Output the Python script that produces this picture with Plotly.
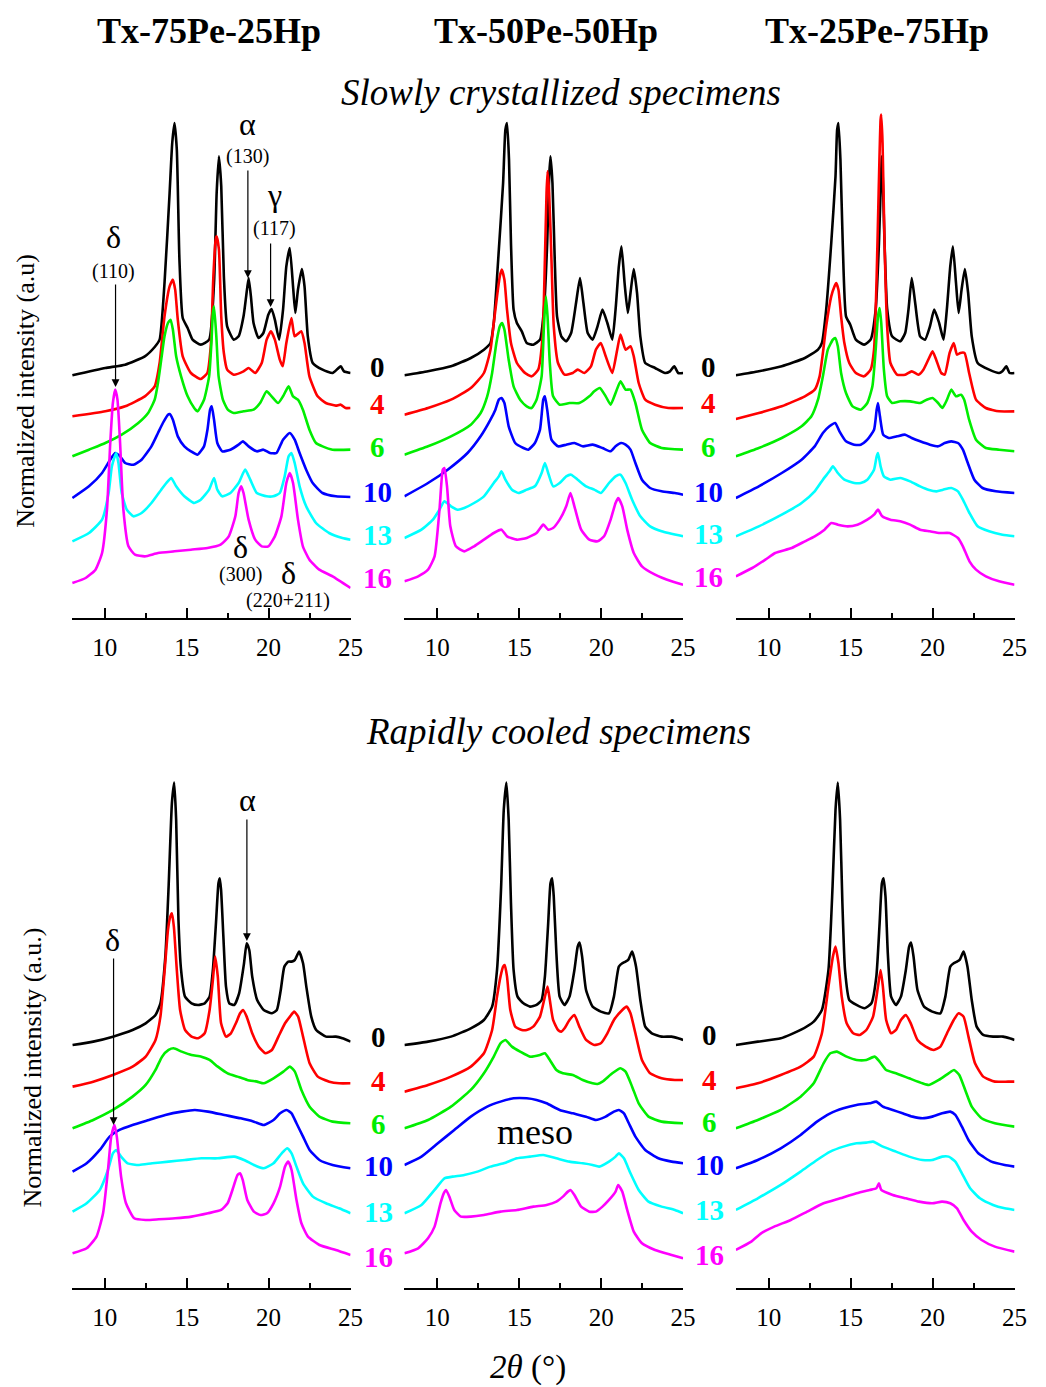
import plotly.graph_objects as go

W, H = 1046, 1387

# ---------------- data: (2theta in deg, normalized intensity a.u.) ----------------
# Slowly crystallized, Tx-75Pe-25Hp
S75_0 = [(8.03,0),(10.04,22),(11.25,32),(12.45,57),(13.05,85),(13.35,107),(13.65,277),(13.96,547),(14.12,697),(14.26,757),(14.4,677),(14.56,347),(14.76,172),(15.06,142),(15.36,107),(15.86,92),(16.37,107),(16.67,277),(16.83,547),(16.97,657),(17.11,567),(17.27,297),(17.47,147),(17.87,107),(18.17,117),(18.47,177),(18.63,237),(18.78,292),(18.92,237),(19.08,157),(19.38,112),(19.68,127),(19.98,182),(20.18,199),(20.38,167),(20.64,107),(20.88,197),(21.08,327),(21.29,382),(21.49,267),(21.63,187),(21.79,257),(22.03,319),(22.19,267),(22.39,117),(22.69,37),(23.29,17),(23.9,7),(24.2,19),(24.4,27),(24.6,12),(25.0,7)]
S75_4 = [(8.03,0),(10.04,15),(11.25,30),(12.45,60),(13.05,90),(13.35,160),(13.65,300),(13.96,390),(14.16,410),(14.3,380),(14.46,290),(14.76,180),(15.26,130),(15.86,112),(16.26,130),(16.47,210),(16.63,420),(16.77,530),(16.83,540),(16.97,500),(17.11,300),(17.27,190),(17.47,140),(17.87,125),(18.47,135),(18.78,145),(19.18,130),(19.58,160),(19.88,230),(20.14,255),(20.38,230),(20.68,170),(20.86,150),(21.08,220),(21.39,295),(21.59,240),(21.99,255),(22.19,220),(22.49,120),(22.99,60),(23.49,40),(24.1,32),(24.4,35),(24.7,25),(25.0,25)]
S75_6 = [(8.03,0),(9.04,20),(10.04,40),(11.04,65),(12.05,100),(12.65,130),(13.05,170),(13.25,220),(13.45,290),(13.65,360),(13.86,400),(14.02,410),(14.16,380),(14.36,300),(14.66,240),(15.06,180),(15.46,145),(15.66,135),(16.06,170),(16.37,240),(16.51,340),(16.6,430),(16.67,450),(16.81,360),(16.95,240),(17.21,170),(17.51,140),(17.87,130),(18.47,135),(19.08,140),(19.48,160),(19.88,195),(20.18,180),(20.58,160),(20.88,180),(21.22,210),(21.49,180),(21.79,170),(22.09,140),(22.49,80),(22.89,40),(23.29,30),(23.9,20),(25.0,20)]
S75_10 = [(8.03,0),(9.04,35),(9.84,75),(10.34,115),(10.64,135),(10.94,125),(11.25,105),(11.75,100),(12.25,115),(12.85,155),(13.25,195),(13.55,225),(13.86,250),(13.96,252),(14.16,235),(14.46,185),(14.86,155),(15.26,140),(15.66,130),(16.06,155),(16.27,205),(16.43,265),(16.53,275),(16.67,235),(16.87,165),(17.17,140),(17.67,145),(18.17,160),(18.43,170),(18.78,155),(19.28,140),(19.68,145),(20.08,135),(20.48,135),(20.88,175),(21.29,195),(21.59,175),(21.89,135),(22.29,85),(22.69,45),(23.29,15),(24.1,5),(25.0,3)]
S75_13 = [(8.03,0),(9.04,25),(9.84,65),(10.24,145),(10.44,225),(10.7,265),(10.84,235),(11.04,145),(11.35,95),(11.75,75),(12.25,85),(12.85,115),(13.45,155),(13.76,175),(14.06,190),(14.36,165),(14.86,135),(15.46,115),(15.86,125),(16.37,155),(16.67,190),(16.87,155),(17.17,135),(17.67,145),(18.17,175),(18.57,215),(18.88,185),(19.28,145),(19.88,135),(20.28,135),(20.68,145),(20.98,195),(21.22,255),(21.39,265),(21.59,235),(21.89,165),(22.29,105),(22.89,55),(23.69,25),(24.5,10),(25.0,5)]
S75_16 = [(8.03,0),(8.84,15),(9.44,40),(9.84,90),(10.14,220),(10.34,420),(10.5,540),(10.64,580),(10.78,550),(10.94,420),(11.14,220),(11.45,110),(11.85,85),(12.45,80),(13.25,90),(14.26,95),(15.26,100),(16.27,105),(17.07,115),(17.57,140),(17.97,200),(18.17,270),(18.33,290),(18.47,270),(18.78,190),(19.18,130),(19.58,110),(19.98,110),(20.38,140),(20.78,200),(21.08,300),(21.29,330),(21.49,300),(21.79,190),(22.09,110),(22.49,70),(23.09,40),(23.9,20),(25.0,-15)]

# Slowly crystallized, Tx-50Pe-50Hp
S50_0 = [(8.0,0),(9.44,12),(10.84,27),(12.05,52),(12.85,77),(13.25,97),(13.45,157),(13.76,377),(14.02,577),(14.16,737),(14.26,757),(14.38,647),(14.5,397),(14.66,197),(14.86,157),(15.16,132),(15.46,97),(15.86,92),(16.27,107),(16.51,197),(16.71,397),(16.83,597),(16.91,657),(17.03,577),(17.17,347),(17.31,177),(17.57,117),(17.87,102),(18.17,127),(18.47,217),(18.71,292),(18.92,217),(19.18,127),(19.48,107),(19.78,147),(20.08,197),(20.38,157),(20.68,107),(20.88,197),(21.08,327),(21.24,387),(21.43,277),(21.63,187),(21.79,247),(21.99,319),(22.19,247),(22.39,117),(22.69,37),(23.29,22),(23.9,7),(24.2,12),(24.46,27),(24.7,7),(25.0,7)]
S50_4 = [(8.0,0),(9.44,20),(10.84,45),(12.05,80),(12.85,125),(13.25,195),(13.45,275),(13.65,355),(13.82,415),(13.94,435),(14.1,405),(14.26,315),(14.5,215),(14.86,155),(15.36,125),(15.76,115),(16.16,135),(16.43,235),(16.57,465),(16.67,665),(16.73,730),(16.83,665),(16.97,465),(17.11,265),(17.37,155),(17.77,120),(18.27,125),(18.57,135),(18.98,125),(19.38,145),(19.68,195),(19.98,215),(20.28,175),(20.68,125),(20.98,195),(21.18,240),(21.49,195),(21.79,205),(21.99,175),(22.29,95),(22.69,45),(23.29,30),(24.1,20),(25.0,20)]
S50_6 = [(8.0,0),(9.44,25),(10.84,55),(12.05,90),(12.65,125),(13.05,175),(13.35,245),(13.61,335),(13.82,385),(13.96,395),(14.1,375),(14.36,285),(14.66,205),(15.06,165),(15.46,145),(15.76,140),(16.06,165),(16.37,235),(16.51,385),(16.63,475),(16.73,415),(16.87,275),(17.07,175),(17.47,150),(18.07,155),(18.67,155),(19.28,175),(19.58,190),(19.92,200),(20.28,175),(20.58,150),(20.88,185),(21.18,220),(21.49,195),(21.79,195),(22.09,155),(22.49,75),(22.99,35),(23.69,20),(25.0,15)]
S50_10 = [(8.0,0),(9.44,40),(10.64,80),(11.85,130),(12.65,180),(13.25,230),(13.55,260),(13.76,290),(13.92,295),(14.1,280),(14.36,210),(14.76,160),(15.26,145),(15.56,140),(15.96,160),(16.27,200),(16.47,290),(16.57,300),(16.71,260),(16.97,170),(17.37,150),(17.87,155),(18.37,160),(18.88,150),(19.48,155),(20.08,145),(20.58,135),(20.88,150),(21.22,160),(21.49,155),(21.79,140),(22.09,100),(22.49,50),(22.99,25),(23.69,15),(24.5,10),(25.0,5)]
S50_13 = [(8.0,0),(9.04,25),(9.74,55),(10.14,85),(10.44,110),(10.84,95),(11.25,85),(11.65,90),(12.25,105),(12.85,125),(13.45,165),(13.76,185),(13.92,200),(14.16,175),(14.56,145),(14.96,135),(15.46,145),(15.96,155),(16.37,195),(16.57,225),(16.77,195),(17.07,155),(17.47,165),(17.87,185),(18.17,190),(18.57,175),(19.08,155),(19.58,145),(19.98,135),(20.48,165),(20.88,185),(21.18,190),(21.49,165),(21.89,115),(22.39,65),(22.99,35),(23.69,20),(25.0,5)]
S50_16 = [(8.0,0),(8.84,15),(9.44,35),(9.84,75),(10.14,215),(10.34,335),(10.44,340),(10.6,285),(10.8,165),(11.14,105),(11.65,90),(12.25,105),(12.85,125),(13.45,145),(13.92,155),(14.26,135),(14.86,125),(15.46,130),(16.06,145),(16.47,170),(16.77,155),(17.07,160),(17.47,185),(17.87,225),(18.13,265),(18.37,225),(18.78,155),(19.28,125),(19.78,120),(20.18,135),(20.58,185),(20.88,235),(21.04,250),(21.29,225),(21.59,155),(21.99,85),(22.49,45),(23.29,20),(24.3,0),(25.0,-10)]

# Slowly crystallized, Tx-25Pe-75Hp
S25_0 = [(8.0,0),(9.4,12),(10.8,27),(12.21,52),(13.01,77),(13.25,97),(13.51,197),(13.82,397),(14.08,597),(14.18,737),(14.26,757),(14.38,647),(14.52,397),(14.72,177),(14.98,152),(15.32,107),(15.82,92),(16.22,107),(16.53,197),(16.73,397),(16.91,657),(17.07,400),(17.23,200),(17.53,117),(18.03,102),(18.33,127),(18.53,197),(18.73,292),(18.94,217),(19.24,117),(19.54,107),(19.84,147),(20.1,197),(20.4,157),(20.67,107),(20.87,197),(21.08,327),(21.24,387),(21.43,277),(21.59,187),(21.77,257),(21.97,319),(22.17,247),(22.39,117),(22.75,37),(23.45,17),(24.06,7),(24.26,12),(24.5,27),(24.7,7),(25.0,7)]
S25_4 = [(8.0,0),(9.4,18),(10.8,38),(12.21,68),(12.81,88),(13.11,128),(13.31,198),(13.51,278),(13.82,368),(14.02,398),(14.12,408),(14.26,388),(14.42,308),(14.62,228),(14.92,168),(15.32,138),(15.82,128),(16.22,148),(16.43,208),(16.59,428),(16.71,678),(16.83,898),(16.87,913),(16.95,828),(17.07,528),(17.23,278),(17.43,168),(17.83,133),(18.33,133),(18.73,143),(19.14,133),(19.44,148),(19.74,178),(20.0,203),(20.22,178),(20.53,138),(20.74,133),(21.04,198),(21.29,228),(21.49,193),(21.69,198),(21.95,198),(22.23,138),(22.65,58),(23.25,33),(24.06,23),(25.0,23)]
S25_6 = [(8.0,0),(9.4,25),(10.8,55),(12.01,90),(12.61,120),(13.01,170),(13.31,240),(13.61,320),(13.92,350),(14.06,355),(14.22,330),(14.42,250),(14.72,190),(15.12,150),(15.62,140),(16.02,160),(16.33,210),(16.53,320),(16.67,420),(16.77,445),(16.87,400),(17.03,260),(17.23,180),(17.53,160),(18.03,165),(18.63,165),(19.24,160),(19.64,170),(20.0,175),(20.34,160),(20.6,145),(20.88,170),(21.14,200),(21.43,180),(21.73,185),(21.93,170),(22.23,110),(22.65,50),(23.25,25),(24.06,20),(25.0,15)]
S25_10 = [(8.0,0),(9.4,35),(10.8,75),(12.01,115),(12.81,155),(13.31,195),(13.71,215),(14.06,225),(14.32,200),(14.72,170),(15.22,160),(15.62,160),(16.02,175),(16.43,205),(16.59,265),(16.67,285),(16.79,245),(16.99,190),(17.33,180),(17.83,185),(18.33,190),(18.73,180),(19.24,170),(19.84,160),(20.34,155),(20.74,165),(21.14,170),(21.55,165),(21.85,145),(22.15,105),(22.55,55),(23.05,30),(23.86,20),(25.0,15)]
S25_13 = [(8.0,0),(9.4,30),(10.8,65),(12.01,100),(12.81,135),(13.31,170),(13.71,195),(13.92,210),(14.22,190),(14.62,170),(15.22,160),(15.62,160),(16.02,170),(16.43,200),(16.59,240),(16.67,250),(16.83,210),(17.03,180),(17.43,170),(18.03,175),(18.63,165),(19.24,150),(19.74,140),(20.24,135),(20.64,140),(21.14,145),(21.55,135),(21.85,110),(22.25,70),(22.75,30),(23.45,15),(24.26,5),(25.0,0)]
S25_16 = [(8.0,0),(9.0,25),(9.8,50),(10.4,70),(11.41,85),(12.21,105),(12.81,120),(13.41,140),(13.82,160),(14.22,155),(14.82,150),(15.42,155),(16.02,170),(16.43,185),(16.67,200),(16.93,180),(17.43,170),(18.03,165),(18.63,155),(19.24,140),(19.84,135),(20.44,130),(21.04,130),(21.55,115),(21.85,90),(22.25,45),(22.65,20),(23.25,0),(24.06,-15),(25.0,-25)]

# Rapidly cooled, Tx-75Pe-25Hp
R75_0 = [(8.04,0),(9.3,10),(10.5,25),(11.7,45),(12.5,65),(13.1,90),(13.4,125),(13.7,265),(13.9,475),(14.1,725),(14.24,787),(14.36,675),(14.5,375),(14.66,225),(14.9,145),(15.3,125),(15.7,120),(16.1,125),(16.4,145),(16.6,225),(16.8,375),(16.94,485),(17.02,500),(17.1,465),(17.24,325),(17.4,175),(17.6,125),(17.9,120),(18.2,155),(18.5,245),(18.66,305),(18.82,285),(19.0,205),(19.3,135),(19.7,105),(20.2,95),(20.5,105),(20.74,165),(20.96,235),(21.2,250),(21.4,250),(21.6,255),(21.86,280),(22.1,245),(22.3,175),(22.6,85),(22.9,45),(23.5,25),(24.1,25),(24.5,20),(25.0,10)]
R75_4 = [(8.04,0),(9.3,15),(10.5,35),(11.7,60),(12.5,90),(13.1,140),(13.4,210),(13.66,350),(13.86,470),(14.0,510),(14.1,520),(14.22,480),(14.4,350),(14.6,230),(14.9,170),(15.3,150),(15.7,145),(16.1,160),(16.4,230),(16.6,320),(16.74,390),(16.9,330),(17.1,190),(17.4,150),(17.7,160),(18.0,190),(18.26,220),(18.44,230),(18.66,210),(19.0,160),(19.4,120),(19.8,100),(20.2,110),(20.6,150),(21.0,190),(21.3,210),(21.56,225),(21.8,210),(22.1,150),(22.5,70),(23.0,30),(23.7,15),(24.3,10),(25.0,10)]
R75_6 = [(8.04,0),(9.3,25),(10.5,55),(11.7,95),(12.5,130),(13.1,175),(13.5,215),(13.9,235),(14.2,240),(14.7,230),(15.3,220),(15.9,215),(16.4,205),(16.9,185),(17.5,165),(18.1,155),(18.7,145),(19.3,140),(19.7,135),(20.3,150),(20.9,170),(21.3,185),(21.6,170),(22.0,115),(22.5,65),(23.1,35),(23.9,20),(25.0,15)]
R75_10 = [(8.04,0),(8.9,25),(9.7,65),(10.3,105),(10.9,125),(11.7,140),(12.7,155),(13.7,170),(14.7,180),(15.5,185),(16.3,180),(17.3,170),(18.3,160),(19.1,150),(19.7,140),(20.3,155),(20.7,175),(21.1,185),(21.4,175),(21.7,145),(22.1,105),(22.5,65),(23.1,35),(23.9,20),(25.0,10)]
R75_13 = [(8.04,0),(8.9,25),(9.7,65),(10.2,125),(10.5,175),(10.7,185),(11.0,165),(11.4,145),(12.1,140),(12.9,145),(13.9,150),(14.9,155),(15.9,160),(16.9,160),(17.9,165),(18.5,155),(19.1,140),(19.7,130),(20.3,145),(20.8,175),(21.14,190),(21.4,175),(21.7,135),(22.1,85),(22.7,45),(23.5,25),(24.3,10),(25.0,-5)]
R75_16 = [(8.04,0),(8.9,15),(9.5,50),(9.9,120),(10.2,250),(10.4,350),(10.6,385),(10.74,350),(11.0,230),(11.3,150),(11.8,105),(12.5,100),(13.3,102),(14.3,105),(15.3,110),(16.3,120),(17.1,130),(17.5,150),(17.86,200),(18.1,235),(18.26,240),(18.42,220),(18.7,160),(19.1,125),(19.5,115),(19.9,120),(20.3,150),(20.7,200),(21.0,260),(21.2,275),(21.4,250),(21.7,160),(22.0,90),(22.4,50),(23.1,25),(24.1,10),(25.0,-5)]

# Rapidly cooled, Tx-50Pe-50Hp
R50_0 = [(8.0,0),(9.44,10),(10.84,25),(12.05,50),(12.85,75),(13.35,115),(13.65,225),(13.9,475),(14.06,705),(14.22,787),(14.36,675),(14.5,425),(14.66,225),(14.9,145),(15.26,125),(15.66,115),(16.06,120),(16.37,135),(16.57,205),(16.77,365),(16.91,485),(17.01,500),(17.11,445),(17.27,275),(17.47,145),(17.77,120),(18.07,145),(18.37,225),(18.57,295),(18.69,307),(18.84,265),(19.08,165),(19.48,115),(19.98,100),(20.48,95),(20.78,145),(21.08,235),(21.29,245),(21.49,250),(21.65,255),(21.89,280),(22.13,235),(22.39,135),(22.69,55),(23.09,35),(23.69,25),(24.3,25),(24.7,20),(25.0,15)]
R50_4 = [(8.0,0),(9.44,20),(10.84,45),(12.05,75),(12.85,115),(13.35,185),(13.65,285),(13.86,345),(14.02,375),(14.12,380),(14.26,345),(14.46,245),(14.76,195),(15.16,185),(15.46,185),(15.86,195),(16.27,225),(16.57,285),(16.73,315),(16.87,275),(17.07,215),(17.37,185),(17.57,180),(17.77,190),(18.07,215),(18.37,230),(18.67,195),(19.08,155),(19.58,140),(19.98,145),(20.38,175),(20.78,215),(21.29,245),(21.55,255),(21.79,235),(22.09,175),(22.49,95),(22.99,55),(23.69,40),(24.5,35),(25.0,35)]
R50_6 = [(8.0,0),(9.44,25),(10.84,65),(12.05,115),(12.85,165),(13.45,215),(13.86,255),(14.16,265),(14.56,245),(15.06,230),(15.66,215),(16.27,220),(16.57,225),(16.87,205),(17.27,175),(17.67,165),(18.27,160),(18.88,145),(19.48,135),(19.78,133),(20.08,140),(20.68,165),(21.18,180),(21.49,170),(21.89,125),(22.29,75),(22.89,35),(23.69,20),(25.0,15)]
R50_10 = [(8.0,0),(9.04,25),(10.04,65),(11.04,105),(12.05,145),(13.05,175),(13.86,190),(14.66,200),(15.46,200),(16.06,195),(16.67,185),(17.47,165),(18.27,155),(19.08,145),(19.68,135),(20.28,145),(20.78,160),(21.08,165),(21.39,155),(21.69,125),(22.09,85),(22.69,45),(23.49,20),(24.3,10),(25.0,5)]
R50_13 = [(8.0,0),(9.04,25),(9.84,70),(10.44,105),(10.94,110),(11.65,115),(12.45,125),(13.25,140),(14.06,150),(14.86,165),(15.66,170),(16.47,175),(17.27,165),(18.07,155),(18.88,150),(19.48,145),(19.88,140),(20.48,155),(20.88,170),(21.08,180),(21.39,165),(21.79,120),(22.29,70),(22.89,35),(23.69,20),(24.5,10),(25.0,0)]
R50_16 = [(8.0,0),(8.84,15),(9.44,45),(9.84,80),(10.2,150),(10.4,180),(10.54,190),(10.74,170),(11.04,130),(11.45,110),(12.05,110),(12.85,115),(13.86,125),(14.86,130),(15.86,140),(16.67,145),(17.27,155),(17.67,170),(17.97,185),(18.13,190),(18.37,175),(18.78,140),(19.28,125),(19.68,125),(20.08,140),(20.48,160),(20.88,185),(21.04,205),(21.29,185),(21.59,130),(21.99,65),(22.49,30),(23.29,10),(24.3,-5),(25.0,-15)]

# Rapidly cooled, Tx-25Pe-75Hp
R25_0 = [(8.0,0),(9.34,10),(10.74,20),(11.95,45),(12.75,70),(13.25,105),(13.65,225),(13.9,475),(14.08,705),(14.22,787),(14.36,675),(14.5,425),(14.66,225),(14.92,135),(15.36,120),(15.86,110),(16.27,125),(16.57,205),(16.77,365),(16.91,485),(17.01,500),(17.13,445),(17.27,275),(17.47,145),(17.77,120),(18.07,145),(18.37,225),(18.57,295),(18.69,307),(18.84,265),(19.08,165),(19.48,115),(19.98,100),(20.48,95),(20.78,145),(21.08,235),(21.29,245),(21.49,250),(21.65,255),(21.89,280),(22.13,235),(22.39,135),(22.69,55),(23.09,30),(23.69,25),(24.3,25),(24.7,20),(25.0,15)]
R25_4 = [(8.0,0),(9.34,15),(10.74,40),(11.95,65),(12.75,95),(13.25,165),(13.65,305),(13.92,395),(14.08,425),(14.26,375),(14.46,275),(14.76,195),(15.16,165),(15.56,160),(15.96,175),(16.37,215),(16.67,305),(16.83,355),(16.97,305),(17.17,205),(17.47,165),(17.77,175),(18.07,205),(18.37,220),(18.67,195),(19.08,145),(19.58,125),(20.08,115),(20.48,125),(20.88,165),(21.29,205),(21.59,225),(21.89,215),(22.19,155),(22.59,75),(23.09,35),(23.8,20),(24.6,20),(25.0,20)]
R25_6 = [(8.0,0),(9.34,25),(10.74,55),(11.95,95),(12.75,135),(13.35,195),(13.76,225),(14.16,230),(14.76,215),(15.36,205),(15.96,205),(16.47,215),(16.77,200),(17.17,175),(17.77,165),(18.57,150),(19.38,135),(19.78,130),(20.38,145),(20.98,165),(21.31,175),(21.63,160),(21.99,115),(22.39,65),(22.99,30),(23.8,15),(25.0,5)]
R25_10 = [(8.0,0),(9.34,25),(10.74,60),(11.95,100),(12.95,140),(13.76,165),(14.56,180),(15.36,190),(16.16,195),(16.57,200),(16.97,185),(17.57,175),(18.17,165),(18.78,155),(19.38,150),(19.98,155),(20.58,165),(21.08,170),(21.39,160),(21.79,125),(22.19,85),(22.79,45),(23.59,20),(24.4,10),(25.0,5)]
R25_13 = [(8.0,0),(9.34,35),(10.74,75),(11.95,115),(12.95,150),(13.76,175),(14.56,190),(15.36,200),(15.96,202),(16.37,205),(16.97,190),(17.77,175),(18.57,160),(19.38,150),(19.98,150),(20.58,160),(20.98,160),(21.39,145),(21.79,110),(22.29,65),(22.89,35),(23.69,15),(24.4,5),(25.0,0)]
R25_16 = [(8.0,0),(8.94,25),(9.54,50),(10.34,70),(11.35,90),(12.35,115),(13.35,140),(14.36,155),(15.36,170),(16.16,180),(16.57,185),(16.73,200),(16.87,180),(17.57,165),(18.37,155),(19.18,145),(19.98,140),(20.58,145),(21.08,140),(21.49,125),(21.89,90),(22.39,55),(22.99,30),(23.8,10),(25.0,-5)]

CURVE_LABELS = ["0", "4", "6", "10", "13", "16"]
SAMPLES = ["Tx-75Pe-25Hp", "Tx-50Pe-50Hp", "Tx-25Pe-75Hp"]
X_TICKS = [10, 15, 20, 25]

PANEL_CURVES = [
    [S75_0, S75_4, S75_6, S75_10, S75_13, S75_16],
    [S50_0, S50_4, S50_6, S50_10, S50_13, S50_16],
    [S25_0, S25_4, S25_6, S25_10, S25_13, S25_16],
    [R75_0, R75_4, R75_6, R75_10, R75_13, R75_16],
    [R50_0, R50_4, R50_6, R50_10, R50_13, R50_16],
    [R25_0, R25_4, R25_6, R25_10, R25_13, R25_16],
]

# ---------------- styling / layout ----------------
STACK_OFFSETS = [
    [728, 605, 485, 360, 230, 105],
    [728, 610, 490, 365, 240, 110],
    [728, 597, 485, 360, 245, 125],
    [730, 605, 480, 350, 230, 105],
    [730, 590, 480, 370, 225, 105],
    [730, 600, 480, 360, 235, 115],
]
COLORS = ["#000000", "#FF0000", "#00EE00", "#0000FF", "#00FFFF", "#FF00FF"]
SERIF = "Liberation Serif, Times New Roman, serif"

def px(x, y):
    return x / W, 1 - y / H

X_DOMAINS = [(72.8 / W, 355 / W), (409.5 / W, 691.7 / W), (745.1 / W, 1027.3 / W)]
Y_DOMAINS = [(1 - 618 / H, 1 - 108 / H), (1 - 1288.3 / H, 1 - 778.3 / H)]

fig = go.Figure()
layout = dict(width=W, height=H, margin=dict(l=0, r=0, t=0, b=0), autosize=False,
              plot_bgcolor="white", paper_bgcolor="white", showlegend=False)

for p, curves in enumerate(PANEL_CURVES):
    row, col = divmod(p, 3)
    k = p + 1
    xname = "x" if k == 1 else f"x{k}"
    yname = "y" if k == 1 else f"y{k}"
    for i, pts in enumerate(curves):
        xs = [a for a, b in pts]
        ys = [b + STACK_OFFSETS[p][i] for a, b in pts]
        fig.add_trace(go.Scatter(x=xs, y=ys, mode="lines", xaxis=xname, yaxis=yname,
                                 line=dict(color=COLORS[i], width=2.6, shape="spline", smoothing=0.5),
                                 hoverinfo="skip"))
    layout["xaxis" if k == 1 else f"xaxis{k}"] = dict(
        domain=list(X_DOMAINS[col]), anchor=yname, range=[8, 25],
        showline=True, linecolor="black", linewidth=2, showgrid=False, zeroline=False,
        tickmode="array", tickvals=X_TICKS, ticks="inside", ticklen=10, tickwidth=1.5,
        tickcolor="black", ticklabelstandoff=6,
        minor=dict(tickmode="array", tickvals=[12.5, 17.5, 22.5], ticks="inside",
                   ticklen=5, tickwidth=1.5, tickcolor="black", showgrid=False),
        tickfont=dict(family=SERIF, size=25, color="black"))
    layout["yaxis" if k == 1 else f"yaxis{k}"] = dict(
        domain=list(Y_DOMAINS[row]), anchor=xname, range=[0, 1530], visible=False)

fig.update_layout(**layout)

anns = []
def text(t, x, y, size, bold=False, italic=False, color="black", angle=0):
    s = t
    if bold:
        s = f"<b>{s}</b>"
    if italic:
        s = f"<i>{s}</i>"
    xp, yp = px(x, y)
    anns.append(dict(text=s, x=xp, y=yp, xref="paper", yref="paper", showarrow=False,
                     xanchor="center", yanchor="middle", textangle=angle,
                     font=dict(family=SERIF, size=size, color=color)))

def arrow(x, y_tail, y_tip):
    xp, yp = px(x, y_tip)
    anns.append(dict(text="", x=xp, y=yp, xref="paper", yref="paper", showarrow=True,
                     ax=0, ay=-(y_tip - y_tail), axref="pixel", ayref="pixel",
                     arrowhead=2, arrowsize=1.3, arrowwidth=1.2, arrowcolor="black", standoff=0))

# headers
for s, cx in zip(SAMPLES, [212, 553, 888]):
    text(s, cx, 31, 36, bold=True)
text("Slowly crystallized specimens", 568, 92, 37, italic=True)
text("Rapidly cooled specimens", 566, 731, 37, italic=True)
text("Normalized intensity (a.u)", 25, 391, 26, angle=-90)
text("Normalized intensity (a.u.)", 32, 1068, 26, angle=-90)
text("<i>2θ</i> (°)", 535, 1367, 33)

# curve labels
LABEL_POS = [
    (382, [367, 404, 447, 492, 535, 578]),
    (717, [367, 403, 447, 492, 534, 577]),
    (383, [1037, 1081, 1124, 1166, 1212, 1257]),
    (718, [1035, 1080, 1122, 1165, 1210, 1255]),
]
for lx, lys in LABEL_POS:
    for i, ly in enumerate(lys):
        text(CURVE_LABELS[i], lx, ly, 29, bold=True, color=COLORS[i])

# peak annotations (top-left)
text("δ", 115, 237, 32); text("(110)", 115, 271, 20); arrow(117, 283, 387)
text("α", 251, 124, 32); text("(130)", 251, 156, 20); arrow(251, 169, 278)
text("γ", 278, 195, 32); text("(117)", 278, 229, 20); arrow(274, 242, 307)
text("δ", 244, 547, 32); text("(300)", 244, 574, 20)
text("δ", 292, 573, 32); text("(220+211)", 292, 600, 20)
# bottom annotations
text("δ", 114, 940, 32); arrow(115, 957, 1125)
text("α", 251, 800, 32); arrow(250, 818, 941)
text("meso", 542, 1132, 36)

fig.update_layout(annotations=anns)
fig.write_html(
    "out.html",
    config={"displayModeBar": False, "responsive": False},
    post_script=("document.documentElement.style.overflow='hidden';"
                 "document.body.style.overflow='hidden';"
                 "document.body.style.margin='0px';document.body.style.padding='0px';"),
)
